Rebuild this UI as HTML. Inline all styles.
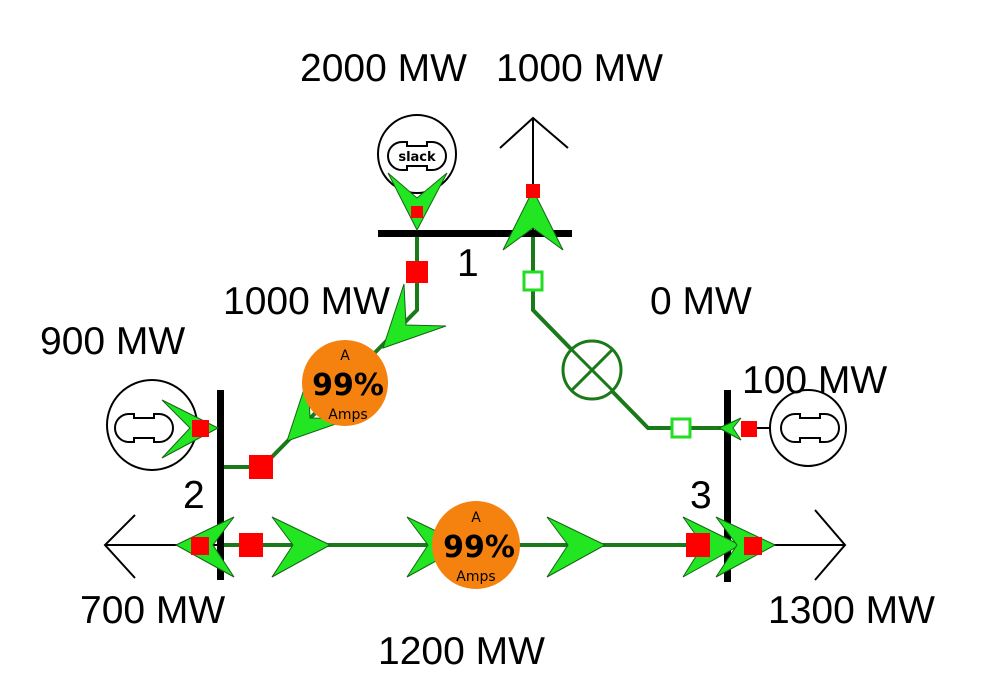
<!DOCTYPE html>
<html><head><meta charset="utf-8"><style>
body{margin:0;background:#fff}
svg{display:block}
text{font-family:"DejaVu Sans","Liberation Sans",sans-serif}
.lbl{font-size:39px;fill:#000;font-family:"Liberation Sans",sans-serif}
.ar{fill:#22e622;stroke:#156515;stroke-width:1}
.ln{stroke:#1a7a1a;stroke-width:4;fill:none}
.rs{fill:#f00}
</style></head><body>
<svg width="985" height="700" viewBox="0 0 985 700" xmlns="http://www.w3.org/2000/svg">
<defs>
<path id="gs" d="M-15,-14 h5 v4 h20 v-4 h5 a14 14 0 0 1 0 28 h-5 v-4 h-20 v4 h-5 a14 14 0 0 1 0 -28z" fill="none" stroke="#000" stroke-width="2"/>
</defs>
<path class="ln" d="M417,233 V310 L262,467 H221"/>
<path class="ln" d="M533,233 V310 L648,428 H728"/>
<path class="ln" d="M221,545 H728"/>
<path d="M533,233 V118 M500,148 L533,118 L568,148" stroke="#000" stroke-width="2" fill="none"/>
<path d="M221,545 H105 M135,515 L105,545 L135,578" stroke="#000" stroke-width="2" fill="none"/>
<path d="M728,545 H845 M815,510 L845,545 L815,580" stroke="#000" stroke-width="2" fill="none"/>
<rect x="378" y="230" width="194" height="7" fill="#000"/>
<rect x="217" y="390" width="7" height="190" fill="#000"/>
<rect x="724" y="390" width="7" height="192" fill="#000"/>
<circle cx="417" cy="154" r="39" fill="#fff" stroke="#000" stroke-width="2"/>
<use href="#gs" x="417" y="156"/>
<text x="417" y="161" font-size="13" font-weight="bold" text-anchor="middle">slack</text>
<polygon class="ar" points="417,230 388,173 417,198 447,173"/>
<rect class="rs" x="411" y="206" width="12" height="12"/>
<circle cx="152" cy="425" r="45" fill="#fff" stroke="#000" stroke-width="2"/>
<use href="#gs" x="144" y="428"/>
<polygon class="ar" points="218,428 162,400 190,428 162,458"/>
<rect class="rs" x="192" y="420" width="17" height="17"/>
<circle cx="808" cy="428" r="38" fill="#fff" stroke="#000" stroke-width="2"/>
<use href="#gs" x="810" y="428"/>
<path d="M755,428 H770" stroke="#000" stroke-width="2"/>
<polygon class="ar" points="719,428 741,418 733,428 741,440"/>
<rect class="rs" x="741" y="421" width="16" height="16"/>
<polygon class="ar" points="533,190 503,250 533,228 563,250"/>
<rect class="rs" x="526" y="184" width="14" height="14"/>
<rect class="rs" x="406" y="261" width="22" height="22"/>
<polygon class="ar" points="383,348 446,326 406,325 404,284"/>
<polygon class="ar" points="287,441 350,419 310,418 308,377"/>
<rect class="rs" x="249" y="455" width="24" height="24"/>
<circle cx="345" cy="383" r="43" fill="#f5820f"/>
<text x="345" y="360" font-size="14" text-anchor="middle">A</text>
<text x="348" y="395" font-size="30" font-weight="bold" text-anchor="middle">99%</text>
<text x="348" y="419" font-size="14" text-anchor="middle">Amps</text>
<rect x="524" y="272" width="18" height="18" fill="#fff" stroke="#22dd22" stroke-width="3"/>
<circle cx="592" cy="370" r="29" fill="#fff" stroke="#1a7a1a" stroke-width="3"/>
<path d="M571,349 L613,391 M613,349 L571,391" stroke="#1a7a1a" stroke-width="3"/>
<rect x="672" y="419" width="18" height="18" fill="#fff" stroke="#22dd22" stroke-width="3"/>
<polygon class="ar" points="176,545 234,517 213,545 234,577"/>
<rect class="rs" x="191" y="537" width="18" height="18"/>
<rect class="rs" x="239" y="533" width="24" height="24"/>
<polygon class="ar" points="330,545 272,517 293,545 272,577"/>
<polygon class="ar" points="465,545 407,517 428,545 407,577"/>
<polygon class="ar" points="605,545 547,517 568,545 547,577"/>
<polygon class="ar" points="740,545 683,517 703,545 683,577"/>
<polygon class="ar" points="775,545 716,517 737,545 716,577"/>
<rect class="rs" x="686" y="533" width="24" height="24"/>
<rect class="rs" x="744" y="537" width="18" height="18"/>
<circle cx="476" cy="545" r="44" fill="#f5820f"/>
<text x="476" y="522" font-size="14" text-anchor="middle">A</text>
<text x="479" y="557" font-size="30" font-weight="bold" text-anchor="middle">99%</text>
<text x="476" y="581" font-size="14" text-anchor="middle">Amps</text>
<text class="lbl" x="300" y="81">2000 MW</text>
<text class="lbl" x="496" y="81">1000 MW</text>
<text class="lbl" x="457" y="276">1</text>
<text class="lbl" x="223" y="314">1000 MW</text>
<text class="lbl" x="650" y="314">0 MW</text>
<text class="lbl" x="40" y="354">900 MW</text>
<text class="lbl" x="742" y="393">100 MW</text>
<text class="lbl" x="183" y="508">2</text>
<text class="lbl" x="690" y="508">3</text>
<text class="lbl" x="80" y="623">700 MW</text>
<text class="lbl" x="768" y="623">1300 MW</text>
<text class="lbl" x="378" y="664">1200 MW</text>
</svg>
</body></html>
